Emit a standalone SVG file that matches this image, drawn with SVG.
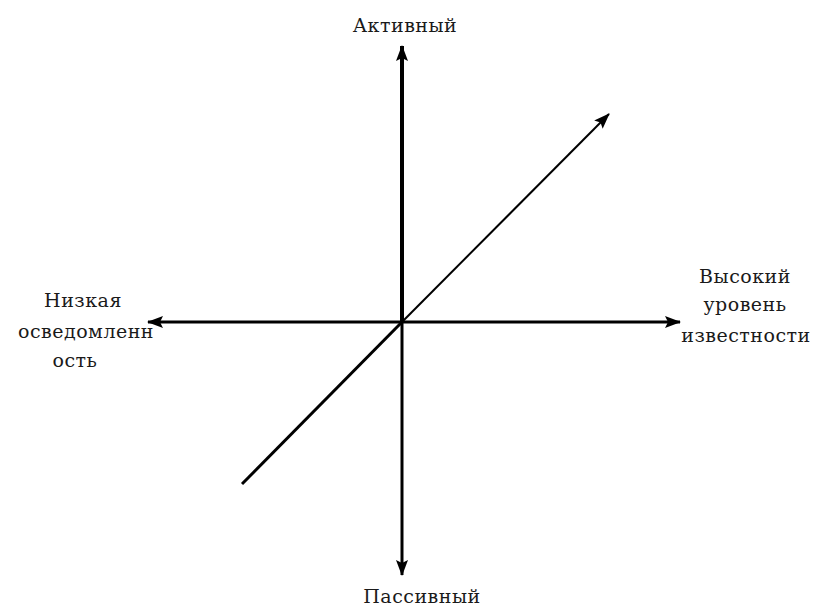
<svg xmlns="http://www.w3.org/2000/svg" width="813" height="612" viewBox="0 0 813 612">
  <style>
    .lbl { font-family: "DejaVu Serif", serif; font-size: 19px; letter-spacing: 0.5px; fill: #1a1a1a; text-anchor: middle; }
    .ax { stroke: #000; fill: none; stroke-linecap: butt; }
  </style>
  <defs>
    <marker id="arr" viewBox="0 0 16 12" refX="15" refY="6" markerWidth="17" markerHeight="12" markerUnits="userSpaceOnUse" orient="auto">
      <path d="M0,0 L16,6 L0,12 L3,6 z" fill="#000"/>
    </marker>
  </defs>
  <rect width="813" height="612" fill="#fff"/>
  <g id="connectors">
    <line class="ax" x1="402" y1="322" x2="402" y2="46" stroke-width="4" marker-end="url(#arr)"/>
    <line class="ax" x1="402" y1="322" x2="402" y2="575" stroke-width="3" marker-end="url(#arr)"/>
    <line class="ax" x1="402" y1="322" x2="148" y2="322" stroke-width="3" marker-end="url(#arr)"/>
    <line class="ax" x1="402" y1="322" x2="680" y2="322" stroke-width="3" marker-end="url(#arr)"/>
    <line class="ax" x1="242" y1="484" x2="402" y2="322" stroke-width="3"/>
    <line class="ax" x1="402" y1="322" x2="609" y2="114" stroke-width="2" marker-end="url(#arr)"/>
  </g>
  <g id="active">
    <text class="lbl" x="405" y="32">Активный</text>
  </g>
  <g id="passive">
    <text class="lbl" x="422" y="603">Пассивный</text>
  </g>
  <g id="low">
    <text class="lbl" x="83" y="307">Низкая</text>
    <text class="lbl" x="86" y="338">осведомленн</text>
    <text class="lbl" x="75" y="367">ость</text>
  </g>
  <g id="high">
    <text class="lbl" x="745" y="283">Высокий</text>
    <text class="lbl" x="745" y="311">уровень</text>
    <text class="lbl" x="746" y="342">известности</text>
  </g>
</svg>
